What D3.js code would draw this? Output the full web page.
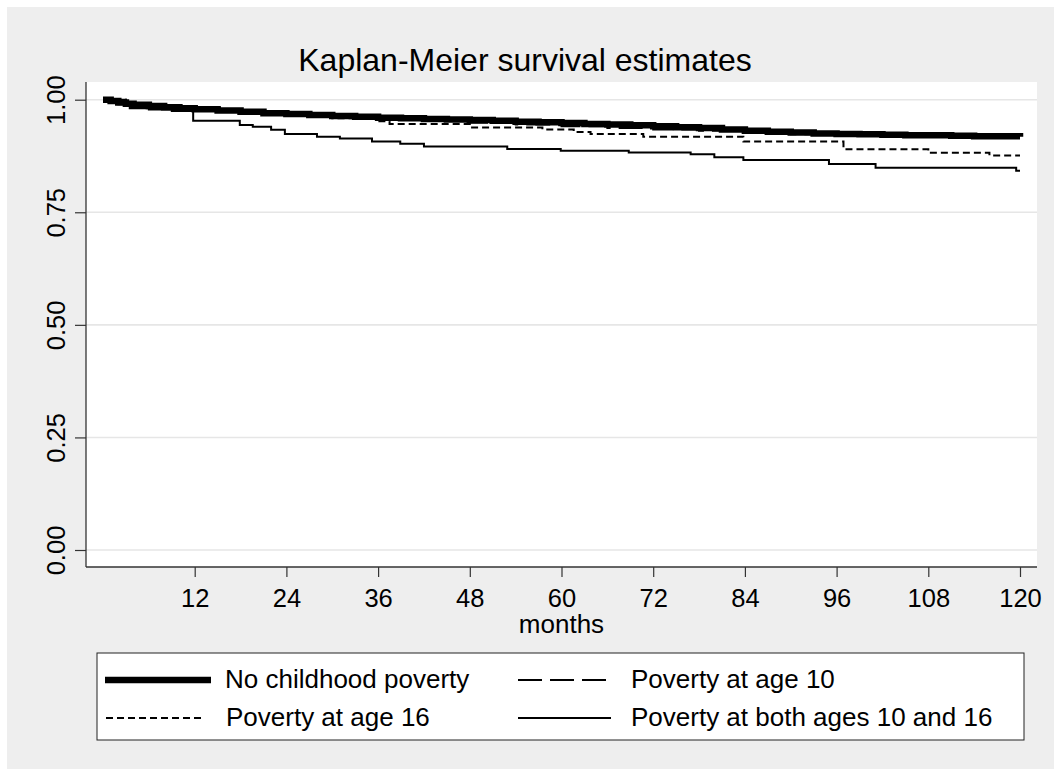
<!DOCTYPE html>
<html lang="en">
<head>
<meta charset="utf-8">
<title>Kaplan-Meier survival estimates</title>
<script src="https://d3js.org/d3.v7.min.js"></script>
<style>
  body { margin: 0; background: #fff; }
  text { font-family: "Liberation Sans", Arial, sans-serif; fill: #000; }
</style>
</head>
<body>
<div id="chart"></div>
<script>
// survival data, months and survivor function
var noneMonths = [0,1,2,3,4,6,8,10,12,15,18,21,24,27,30,33,36,39,42,45,48,51,54,57,60,63,66,69,72,75,78,81,84,87,90,93,96,99,102,105,108,111,114,117,120];
var noneSurv   = [1.000,0.997,0.994,0.991,0.989,0.986,0.983,0.981,0.979,0.976,0.973,0.970,0.968,0.966,0.964,0.962,0.960,0.959,0.957,0.956,0.955,0.953,0.951,0.950,0.948,0.946,0.945,0.943,0.941,0.939,0.937,0.934,0.931,0.929,0.927,0.925,0.924,0.923,0.922,0.921,0.921,0.920,0.919,0.919,0.918];

var age10Months = [0,3,6,9,12,18,24,30,36,42,48,54,60,66,72,78,84,90,96,102,108,114,120];
var age10Surv   = [1.000,0.990,0.984,0.980,0.976,0.970,0.965,0.961,0.957,0.953,0.949,0.945,0.941,0.937,0.934,0.931,0.926,0.923,0.921,0.919,0.918,0.917,0.916];

var age16Months = [0,3,6,9,12,18,24,30,36,37.5,48,57.5,61.6,63.8,70.7,83.8,96.9,108,116,120];
var age16Surv   = [1.000,0.990,0.984,0.980,0.977,0.971,0.965,0.959,0.952,0.946,0.938,0.934,0.928,0.924,0.918,0.907,0.890,0.882,0.876,0.876];

var bothMonths = [0,1,2,3.5,6,9,11.8,17.9,19.6,22,23.8,28,31,35.2,38.9,42,52.9,59.9,68.8,76.9,80,83.8,95,101.1,119.5,120];
var bothSurv   = [1.000,0.995,0.990,0.981,0.978,0.975,0.953,0.944,0.940,0.933,0.924,0.918,0.914,0.907,0.902,0.896,0.8905,0.8867,0.883,0.8787,0.872,0.866,0.857,0.849,0.842,0.842];

var xTicks = [12,24,36,48,60,72,84,96,108,120];
var yTicks = [0, 0.25, 0.5, 0.75, 1];

var seriesNames = ["No childhood poverty", "Poverty at age 10", "Poverty at age 16", "Poverty at both ages 10 and 16"];

var W = 1054, H = 769;

var svg = d3.select("#chart").append("svg")
    .attr("width", W)
    .attr("height", H);

// grey graph background
svg.append("rect")
    .attr("x", 7).attr("y", 7)
    .attr("width", W - 7).attr("height", H - 7)
    .style("fill", "#eeeeee");

// plot region
var region = {left: 86, right: 1037, top: 82, bottom: 567};
svg.append("rect")
    .attr("x", region.left).attr("y", region.top)
    .attr("width", region.right - region.left)
    .attr("height", region.bottom - region.top)
    .style("fill", "#fff");

var x = d3.scaleLinear().domain([0, 120]).range([103, 1020]);
var y = d3.scaleLinear().domain([0, 1]).range([550, 99.7]);

// grid lines
svg.append("g").selectAll("line")
    .data(yTicks)
    .enter().append("line")
    .attr("x1", region.left).attr("x2", region.right)
    .attr("y1", function(d) { return y(d); })
    .attr("y2", function(d) { return y(d); })
    .style("stroke", "#e6e6e6")
    .style("stroke-width", 1.6);

// Y axis
var yAxis = svg.append("g")
    .attr("transform", "translate(" + region.left + ",0)")
    .call(d3.axisLeft(y).tickValues(yTicks).tickFormat(d3.format(".2f")).tickSize(11).tickPadding(8));
yAxis.select(".domain").remove();
yAxis.selectAll(".tick line").style("stroke", "#333").style("stroke-width", 1.2);
yAxis.selectAll(".tick text")
    .attr("x", null).attr("dy", null)
    .attr("transform", "translate(-21,0) rotate(-90)")
    .attr("text-anchor", "middle")
    .style("font-size", "25.5px")
    .style("fill", "#000");
svg.append("line")
    .attr("x1", region.left).attr("x2", region.left)
    .attr("y1", region.top).attr("y2", region.bottom)
    .style("stroke", "#333").style("stroke-width", 1.3);

// X axis
var xAxis = svg.append("g")
    .attr("transform", "translate(0," + region.bottom + ")")
    .call(d3.axisBottom(x).tickValues(xTicks).tickSize(10).tickPadding(5));
xAxis.select(".domain").remove();
xAxis.selectAll(".tick line").style("stroke", "#333").style("stroke-width", 1.2);
xAxis.selectAll(".tick text")
    .attr("dy", null)
    .attr("y", 40)
    .style("font-size", "25.5px")
    .style("fill", "#000");
svg.append("line")
    .attr("x1", region.left).attr("x2", region.right)
    .attr("y1", region.bottom).attr("y2", region.bottom)
    .style("stroke", "#333").style("stroke-width", 1.3);

// axis title
svg.append("text")
    .attr("x", (region.left + region.right) / 2)
    .attr("y", 633)
    .attr("text-anchor", "middle")
    .style("font-size", "26px")
    .text("months");

// title
svg.append("text")
    .attr("x", 525)
    .attr("y", 71)
    .attr("text-anchor", "middle")
    .style("font-size", "32px")
    .text("Kaplan-Meier survival estimates");

// curves
var styles = [
    {w: 6.5, dash: null},
    {w: 2, dash: "24,8"},
    {w: 2, dash: "7,4"},
    {w: 2, dash: null}
];
var series = [
    d3.zip(noneMonths, noneSurv),
    d3.zip(age10Months, age10Surv),
    d3.zip(age16Months, age16Surv),
    d3.zip(bothMonths, bothSurv)
];

var line = d3.line()
    .x(function(d) { return x(d[0]); })
    .y(function(d) { return y(d[1]); })
    .curve(d3.curveStepAfter);

// draw thick one last so it sits on top, like the picture
[3, 2, 1, 0].forEach(function(i) {
    svg.append("path")
        .datum(series[i])
        .attr("d", line)
        .style("fill", "none")
        .style("stroke", "#000")
        .style("stroke-width", styles[i].w)
        .style("stroke-dasharray", styles[i].dash);
});

// legend
svg.append("rect")
    .attr("x", 97).attr("y", 653)
    .attr("width", 927).attr("height", 87)
    .style("fill", "#fff")
    .style("stroke", "#222")
    .style("stroke-width", 1);

var legendPos = [
    {x1: 105, x2: 211, tx: 225, ly: 680, ty: 688},
    {x1: 518, x2: 611, tx: 631, ly: 680, ty: 688},
    {x1: 106, x2: 205, tx: 226, ly: 718, ty: 726},
    {x1: 518, x2: 611, tx: 631, ly: 718, ty: 726}
];
seriesNames.forEach(function(name, i) {
    var p = legendPos[i];
    svg.append("line")
        .attr("x1", p.x1).attr("x2", p.x2)
        .attr("y1", p.ly).attr("y2", p.ly)
        .style("stroke", "#000")
        .style("stroke-width", styles[i].w)
        .style("stroke-dasharray", styles[i].dash);
    svg.append("text")
        .attr("x", p.tx).attr("y", p.ty)
        .style("font-size", "26px")
        .text(name);
});
</script>
</body>
</html>
